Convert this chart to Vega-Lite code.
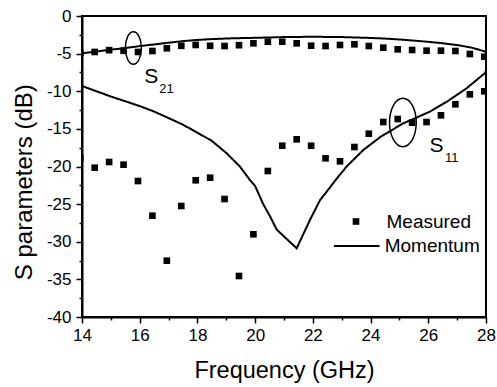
{
  "$schema": "https://vega.github.io/schema/vega-lite/v6.json",
  "width": 404,
  "height": 301,
  "autosize": {"type": "none"},
  "padding": {"left": 82, "top": 16, "right": 11, "bottom": 70},
  "background": "white",
  "config": {
    "font": "Liberation Sans",
    "view": {"stroke": "black", "strokeWidth": 2},
    "axis": {
      "domainColor": "black", "domainWidth": 2,
      "tickColor": "black", "tickWidth": 1.5,
      "labelColor": "black", "titleColor": "black",
      "labelFont": "Liberation Sans", "titleFont": "Liberation Sans",
      "titleFontWeight": "normal", "grid": false,
      "labelFontSize": 17, "labelOverlap": false, "labelFlush": false
    },
    "legend": {"labelFont": "Liberation Sans", "labelColor": "black", "labelFontSize": 19}
  },
  "datasets": {
    "measured": [
      {"f": 13.94, "dB": -18.9, "param": "S11", "series": "Measured"},
      {"f": 14.44, "dB": -20.16, "param": "S11", "series": "Measured"},
      {"f": 14.94, "dB": -19.4, "param": "S11", "series": "Measured"},
      {"f": 15.44, "dB": -19.76, "param": "S11", "series": "Measured"},
      {"f": 15.94, "dB": -21.93, "param": "S11", "series": "Measured"},
      {"f": 16.44, "dB": -26.54, "param": "S11", "series": "Measured"},
      {"f": 16.94, "dB": -32.52, "param": "S11", "series": "Measured"},
      {"f": 17.44, "dB": -25.25, "param": "S11", "series": "Measured"},
      {"f": 17.94, "dB": -21.83, "param": "S11", "series": "Measured"},
      {"f": 18.44, "dB": -21.49, "param": "S11", "series": "Measured"},
      {"f": 18.94, "dB": -24.32, "param": "S11", "series": "Measured"},
      {"f": 19.44, "dB": -34.55, "param": "S11", "series": "Measured"},
      {"f": 19.94, "dB": -29.01, "param": "S11", "series": "Measured"},
      {"f": 20.44, "dB": -20.6, "param": "S11", "series": "Measured"},
      {"f": 20.94, "dB": -17.24, "param": "S11", "series": "Measured"},
      {"f": 21.44, "dB": -16.39, "param": "S11", "series": "Measured"},
      {"f": 21.94, "dB": -17.24, "param": "S11", "series": "Measured"},
      {"f": 22.44, "dB": -18.91, "param": "S11", "series": "Measured"},
      {"f": 22.94, "dB": -19.31, "param": "S11", "series": "Measured"},
      {"f": 23.44, "dB": -17.41, "param": "S11", "series": "Measured"},
      {"f": 23.94, "dB": -15.64, "param": "S11", "series": "Measured"},
      {"f": 24.44, "dB": -14.09, "param": "S11", "series": "Measured"},
      {"f": 24.94, "dB": -13.69, "param": "S11", "series": "Measured"},
      {"f": 25.44, "dB": -14.18, "param": "S11", "series": "Measured"},
      {"f": 25.94, "dB": -14.09, "param": "S11", "series": "Measured"},
      {"f": 26.44, "dB": -13.2, "param": "S11", "series": "Measured"},
      {"f": 26.94, "dB": -11.73, "param": "S11", "series": "Measured"},
      {"f": 27.44, "dB": -10.41, "param": "S11", "series": "Measured"},
      {"f": 27.94, "dB": -10.01, "param": "S11", "series": "Measured"},
      {"f": 13.94, "dB": -4.9, "param": "S21", "series": "Measured"},
      {"f": 14.44, "dB": -4.78, "param": "S21", "series": "Measured"},
      {"f": 14.94, "dB": -4.54, "param": "S21", "series": "Measured"},
      {"f": 15.44, "dB": -4.62, "param": "S21", "series": "Measured"},
      {"f": 15.94, "dB": -4.78, "param": "S21", "series": "Measured"},
      {"f": 16.44, "dB": -4.65, "param": "S21", "series": "Measured"},
      {"f": 16.94, "dB": -4.29, "param": "S21", "series": "Measured"},
      {"f": 17.44, "dB": -3.96, "param": "S21", "series": "Measured"},
      {"f": 17.94, "dB": -3.85, "param": "S21", "series": "Measured"},
      {"f": 18.44, "dB": -3.96, "param": "S21", "series": "Measured"},
      {"f": 18.94, "dB": -3.99, "param": "S21", "series": "Measured"},
      {"f": 19.44, "dB": -3.88, "param": "S21", "series": "Measured"},
      {"f": 19.94, "dB": -3.63, "param": "S21", "series": "Measured"},
      {"f": 20.44, "dB": -3.42, "param": "S21", "series": "Measured"},
      {"f": 20.94, "dB": -3.42, "param": "S21", "series": "Measured"},
      {"f": 21.44, "dB": -3.63, "param": "S21", "series": "Measured"},
      {"f": 21.94, "dB": -3.95, "param": "S21", "series": "Measured"},
      {"f": 22.44, "dB": -3.99, "param": "S21", "series": "Measured"},
      {"f": 22.94, "dB": -3.85, "param": "S21", "series": "Measured"},
      {"f": 23.44, "dB": -3.76, "param": "S21", "series": "Measured"},
      {"f": 23.94, "dB": -3.99, "param": "S21", "series": "Measured"},
      {"f": 24.44, "dB": -4.21, "param": "S21", "series": "Measured"},
      {"f": 24.94, "dB": -4.43, "param": "S21", "series": "Measured"},
      {"f": 25.44, "dB": -4.52, "param": "S21", "series": "Measured"},
      {"f": 25.94, "dB": -4.61, "param": "S21", "series": "Measured"},
      {"f": 26.44, "dB": -4.61, "param": "S21", "series": "Measured"},
      {"f": 26.94, "dB": -4.65, "param": "S21", "series": "Measured"},
      {"f": 27.44, "dB": -5.05, "param": "S21", "series": "Measured"},
      {"f": 27.94, "dB": -5.41, "param": "S21", "series": "Measured"}
    ],
    "momentum": [
      {"f": 14.0, "dB": -9.3, "param": "S11", "series": "Momentum"},
      {"f": 14.5, "dB": -10.0, "param": "S11", "series": "Momentum"},
      {"f": 15.0, "dB": -10.7, "param": "S11", "series": "Momentum"},
      {"f": 15.5, "dB": -11.33, "param": "S11", "series": "Momentum"},
      {"f": 16.0, "dB": -11.97, "param": "S11", "series": "Momentum"},
      {"f": 16.5, "dB": -12.7, "param": "S11", "series": "Momentum"},
      {"f": 17.0, "dB": -13.56, "param": "S11", "series": "Momentum"},
      {"f": 17.5, "dB": -14.45, "param": "S11", "series": "Momentum"},
      {"f": 18.0, "dB": -15.5, "param": "S11", "series": "Momentum"},
      {"f": 18.5, "dB": -16.6, "param": "S11", "series": "Momentum"},
      {"f": 19.0, "dB": -18.2, "param": "S11", "series": "Momentum"},
      {"f": 19.47, "dB": -20.0, "param": "S11", "series": "Momentum"},
      {"f": 19.82, "dB": -21.8, "param": "S11", "series": "Momentum"},
      {"f": 20.0, "dB": -22.6, "param": "S11", "series": "Momentum"},
      {"f": 20.28, "dB": -25.0, "param": "S11", "series": "Momentum"},
      {"f": 20.5, "dB": -26.5, "param": "S11", "series": "Momentum"},
      {"f": 20.75, "dB": -28.4, "param": "S11", "series": "Momentum"},
      {"f": 21.44, "dB": -30.87, "param": "S11", "series": "Momentum"},
      {"f": 21.9, "dB": -27.1, "param": "S11", "series": "Momentum"},
      {"f": 22.25, "dB": -24.45, "param": "S11", "series": "Momentum"},
      {"f": 22.53, "dB": -23.1, "param": "S11", "series": "Momentum"},
      {"f": 22.85, "dB": -21.5, "param": "S11", "series": "Momentum"},
      {"f": 23.17, "dB": -20.0, "param": "S11", "series": "Momentum"},
      {"f": 23.75, "dB": -17.8, "param": "S11", "series": "Momentum"},
      {"f": 24.33, "dB": -16.1, "param": "S11", "series": "Momentum"},
      {"f": 25.13, "dB": -14.26, "param": "S11", "series": "Momentum"},
      {"f": 25.48, "dB": -13.7, "param": "S11", "series": "Momentum"},
      {"f": 26.06, "dB": -12.7, "param": "S11", "series": "Momentum"},
      {"f": 26.64, "dB": -11.4, "param": "S11", "series": "Momentum"},
      {"f": 27.33, "dB": -9.6, "param": "S11", "series": "Momentum"},
      {"f": 27.96, "dB": -7.6, "param": "S11", "series": "Momentum"},
      {"f": 28.0, "dB": -7.3, "param": "S11", "series": "Momentum"},
      {"f": 14.0, "dB": -4.96, "param": "S21", "series": "Momentum"},
      {"f": 14.5, "dB": -4.72, "param": "S21", "series": "Momentum"},
      {"f": 15.0, "dB": -4.48, "param": "S21", "series": "Momentum"},
      {"f": 15.5, "dB": -4.25, "param": "S21", "series": "Momentum"},
      {"f": 16.0, "dB": -4.0, "param": "S21", "series": "Momentum"},
      {"f": 16.5, "dB": -3.78, "param": "S21", "series": "Momentum"},
      {"f": 17.0, "dB": -3.55, "param": "S21", "series": "Momentum"},
      {"f": 17.5, "dB": -3.34, "param": "S21", "series": "Momentum"},
      {"f": 18.0, "dB": -3.18, "param": "S21", "series": "Momentum"},
      {"f": 18.5, "dB": -3.07, "param": "S21", "series": "Momentum"},
      {"f": 19.0, "dB": -2.99, "param": "S21", "series": "Momentum"},
      {"f": 19.5, "dB": -2.94, "param": "S21", "series": "Momentum"},
      {"f": 20.0, "dB": -2.9, "param": "S21", "series": "Momentum"},
      {"f": 21.0, "dB": -2.8, "param": "S21", "series": "Momentum"},
      {"f": 22.0, "dB": -2.76, "param": "S21", "series": "Momentum"},
      {"f": 23.0, "dB": -2.8, "param": "S21", "series": "Momentum"},
      {"f": 24.0, "dB": -2.92, "param": "S21", "series": "Momentum"},
      {"f": 24.5, "dB": -3.0, "param": "S21", "series": "Momentum"},
      {"f": 25.0, "dB": -3.12, "param": "S21", "series": "Momentum"},
      {"f": 25.5, "dB": -3.27, "param": "S21", "series": "Momentum"},
      {"f": 26.0, "dB": -3.43, "param": "S21", "series": "Momentum"},
      {"f": 26.5, "dB": -3.62, "param": "S21", "series": "Momentum"},
      {"f": 27.0, "dB": -3.86, "param": "S21", "series": "Momentum"},
      {"f": 27.5, "dB": -4.2, "param": "S21", "series": "Momentum"},
      {"f": 28.0, "dB": -4.75, "param": "S21", "series": "Momentum"}
    ],
    "rings": [
      {"f": 15.78, "dB": -4.25, "ring": "S21"},
      {"f": 25.12, "dB": -14.15, "ring": "S11"}
    ],
    "notes": [
      {"f": 16.16, "dB": -8.9, "label": "S", "kind": "main"},
      {"f": 16.68, "dB": -10.19, "label": "21", "kind": "sub"},
      {"f": 26.04, "dB": -18.07, "label": "S", "kind": "main"},
      {"f": 26.58, "dB": -19.36, "label": "11", "kind": "sub"}
    ]
  },
  "encoding": {
    "x": {
      "field": "f", "type": "quantitative",
      "scale": {"domain": [14, 28], "nice": false, "zero": false},
      "axis": {
        "title": "Frequency (GHz)",
        "values": [14, 15, 16, 17, 18, 19, 20, 21, 22, 23, 24, 25, 26, 27, 28],
        "labelExpr": "datum.value % 2 === 0 ? '' + datum.value : ''",
        "tickSize": {"condition": {"test": "datum.value % 2 === 0", "value": 6}, "value": 3},
        "labelPadding": 4,
        "titleFontSize": 23.5,
        "titleY": 60,
        "titleBaseline": "alphabetic"
      }
    },
    "y": {
      "field": "dB", "type": "quantitative",
      "scale": {"domain": [-40, 0], "nice": false, "zero": false},
      "axis": {
        "title": "S parameters (dB)",
        "values": [0, -2.5, -5, -7.5, -10, -12.5, -15, -17.5, -20, -22.5, -25, -27.5, -30, -32.5, -35, -37.5, -40],
        "labelExpr": "datum.value % 5 === 0 ? '' + datum.value : ''",
        "tickSize": {"condition": {"test": "datum.value % 5 === 0", "value": 6}, "value": 3},
        "labelPadding": 5,
        "titleFontSize": 24,
        "titleAngle": 270,
        "titleX": -50.3,
        "titleY": 165.7,
        "titleAlign": "center",
        "titleBaseline": "alphabetic"
      }
    }
  },
  "layer": [
    {
      "data": {"name": "momentum"},
      "mark": {"type": "line", "color": "black", "strokeWidth": 2},
      "encoding": {
        "detail": {"field": "param"},
        "strokeDash": {
          "field": "series", "type": "nominal",
          "scale": {"domain": ["Momentum"], "range": [[1, 0]]},
          "legend": {
            "orient": "none", "legendX": 250.7, "legendY": 206, "title": null, "padding": 0,
            "symbolType": "stroke", "symbolSize": 2080, "symbolStrokeColor": "black",
            "symbolStrokeWidth": 2, "labelOffset": 4
          }
        }
      }
    },
    {
      "data": {"name": "measured"},
      "mark": {"type": "point", "filled": true, "color": "black", "size": 44, "opacity": 1, "clip": true},
      "encoding": {
        "shape": {
          "field": "series", "type": "nominal",
          "scale": {"domain": ["Measured"], "range": ["square"]},
          "legend": {
            "orient": "none", "legendX": 264.5, "legendY": 196, "title": null, "padding": 0,
            "symbolSize": 44, "symbolFillColor": "black", "symbolStrokeWidth": 0, "labelOffset": 21
          }
        }
      }
    },
    {
      "data": {"name": "rings"},
      "transform": [{"filter": "datum.ring === 'S21'"}],
      "mark": {"type": "point", "filled": false, "stroke": "black", "strokeWidth": 1.5, "opacity": 1,
               "shape": "M -0.49,0 A 0.49,1 0 1,0 0.49,0 A 0.49,1 0 1,0 -0.49,0 Z", "size": 1069}
    },
    {
      "data": {"name": "rings"},
      "transform": [{"filter": "datum.ring === 'S11'"}],
      "mark": {"type": "point", "filled": false, "stroke": "black", "strokeWidth": 1.5, "opacity": 1,
               "shape": "M -0.553,0 A 0.553,1 0 1,0 0.553,0 A 0.553,1 0 1,0 -0.553,0 Z", "size": 2333}
    },
    {
      "data": {"name": "notes"},
      "transform": [{"filter": "datum.kind === 'main'"}],
      "mark": {"type": "text", "align": "left", "baseline": "alphabetic", "fontSize": 21, "color": "black", "font": "Liberation Sans"},
      "encoding": {"text": {"field": "label"}}
    },
    {
      "data": {"name": "notes"},
      "transform": [{"filter": "datum.kind === 'sub'"}],
      "mark": {"type": "text", "align": "left", "baseline": "alphabetic", "fontSize": 13, "color": "black", "font": "Liberation Sans"},
      "encoding": {"text": {"field": "label"}}
    }
  ]
}
